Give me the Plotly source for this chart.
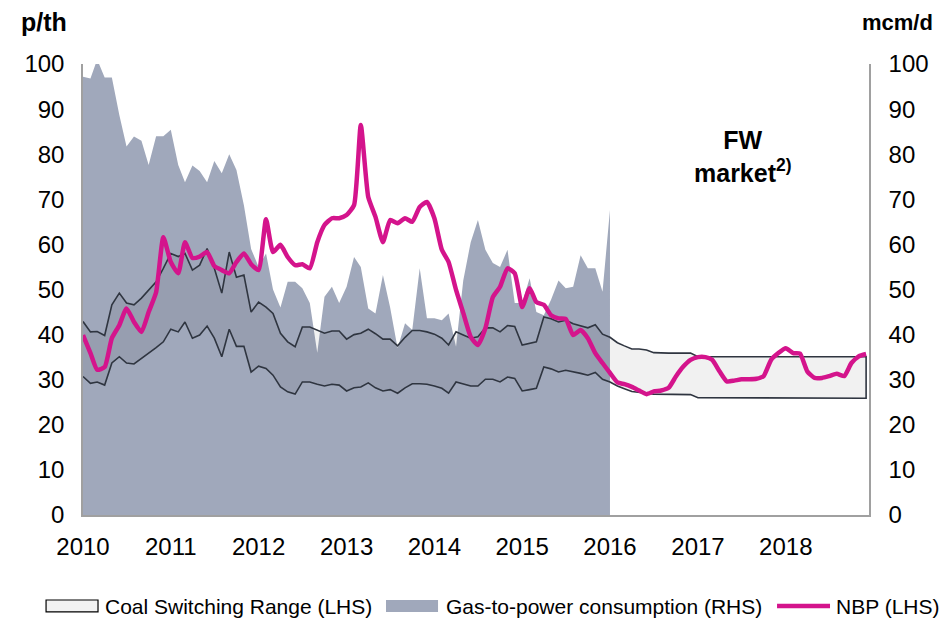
import pandas as pd
import plotly.graph_objects as go

months = pd.date_range("2010-01-01", periods=108, freq="MS")
year_ticks = pd.date_range("2010-01-01", periods=9, freq="YS")
year_labels = ["2010", "2011", "2012", "2013", "2014", "2015", "2016", "2017", "2018"]

gas_to_power = [97.2, 96.8, 101, 97, 97, 88.7, 81.7, 83.9, 83, 77.6, 84, 84,
                85.4, 77.6, 73.8, 77.5, 76.3, 73.8, 78.5, 75.8, 80, 76.5, 68.7, 59,
                55, 58, 50, 46, 51.7, 51.7, 50.3, 47, 36, 48.4, 50.6, 47,
                50.6, 57.2, 55, 45.8, 44.7, 53.2, 46, 37, 42.5, 41, 54.7, 43.6,
                43.6, 43.2, 44.7, 37.3, 52, 60.5, 65.4, 58.8, 55.9, 55, 58.8, 47,
                47, 52.5, 45, 44.3, 47.7, 52, 50.3, 50.6, 57.6, 54.7, 54.7, 49.5,
                67.6]

coal_upper = [42.9, 40.6, 40.7, 39.8, 46.6, 49.2, 47, 46.6, 48.1, 49.9, 51.7, 54.7,
              58, 57.3, 58, 54.3, 55.4, 59.1, 54.7, 49.2, 58.3, 52.7, 53.2, 45,
              47.2, 46.1, 44.7, 40.3, 38.4, 37.3, 41.7, 41.7, 41, 40.3, 40.8, 40.8,
              39, 40, 40.3, 41.2, 40.2, 39, 39, 37.5, 39.4, 40.9, 40.9, 40.6,
              40.1, 39.2, 37.7, 40.6, 39.9, 39.2, 39.5, 41.5, 41.5, 40.6, 42, 41.8,
              37.7, 38, 38.4, 43.9, 43.5, 42.8, 43.2, 42.4, 42, 41.5, 42.2, 40.1,
              39.4, 38.2, 37.5, 36.8, 36.8, 36.6, 36.0, 35.9, 35.9, 35.9, 35.9, 35.9,
              35.1, 35.1, 35.1, 35.1, 35.1, 35.1, 35.1, 35.1, 35.1, 35.1, 35.1, 35.1,
              35.1, 35.1, 35.1, 35.1, 35.1, 35.1, 35.1, 35.1, 35.1, 35.1, 35.1, 35.1]

coal_lower = [30.7, 29.2, 29.5, 28.8, 33.7, 35.1, 33.7, 33.5, 34.6, 35.9, 37.1, 38.4,
              41.2, 40.6, 42.8, 39.2, 39.9, 41.9, 39.2, 35.1, 41.2, 37.4, 37.4, 31.7,
              33, 32.5, 31, 28.4, 27.3, 26.8, 29.5, 29.5, 29, 28.6, 29, 28.8,
              27.5, 28.2, 28.4, 29.3, 28.2, 27.5, 27.8, 27, 28.2, 29.1, 29.1, 29,
              28.6, 28.1, 27, 29.5, 29, 28.6, 28.6, 30.1, 30.1, 29.5, 30.6, 30.3,
              27.5, 27.8, 28.1, 32.8, 32.4, 31.7, 32.1, 31.7, 31.4, 31, 31.6, 30.1,
              29.5, 28.6, 28.0, 27.4, 27.2, 27.0, 26.8, 26.7, 26.7, 26.7, 26.7, 26.7,
              26.0, 26.0, 26.0, 26.0, 26.0, 26.0, 26.0, 26.0, 26.0, 26.0, 26.0, 26.0,
              25.9, 25.9, 25.9, 25.9, 25.9, 25.9, 25.9, 25.9, 25.9, 25.9, 25.9, 25.9]

nbp = [39.9, 35.9, 32.2, 32.8, 39.2, 42.1, 45.8, 42.8, 40.6, 45, 49.4, 61.6,
       56.1, 53.6, 60.5, 57, 57.3, 58.3, 55.2, 54.3, 53.6, 56.1, 58, 55.6,
       54.3, 65.6, 58.3, 59.9, 57.2, 55.4, 55.6, 54.7, 60.5, 64.3, 65.8, 65.8,
       66.5, 68.7, 86.5, 70.5, 66.1, 60.5, 65.4, 64.7, 65.8, 65, 68.3, 69.4,
       65.8, 58.8, 56.1, 49.9, 44.8, 39.5, 37.7, 41.4, 48.3, 50.6, 54.7, 53.6,
       46.1, 50.3, 47.2, 46.6, 44.3, 43.6, 43.5, 39.9, 41, 39.2, 35.9, 33.7,
       31.5, 29.4, 29, 28.4, 27.6, 26.8, 27.4, 27.6, 28.2, 30.7, 32.9, 34.4,
       35, 35, 34.4, 31.8, 29.6, 29.8, 30.1, 30.1, 30.2, 30.8, 34.4, 35.9,
       37, 35.9, 35.8, 31.8, 30.4, 30.4, 30.8, 31.3, 30.8, 33.7, 35.2, 35.7]

legend_labels = ["Coal Switching Range (LHS)", "Gas-to-power consumption (RHS)", "NBP (LHS)"]

FONT = "Liberation Sans, Arial, sans-serif"
GAS_COLOR = "#a0a8bb"
NBP_COLOR = "#d4148c"
LINE_COLOR = "#2f3540"
BAND_FILL = "#f2f2f2"

fig = go.Figure()

# Gas-to-power consumption (RHS) area
fig.add_trace(go.Scatter(
    x=months[:len(gas_to_power)], y=gas_to_power, mode="lines",
    fill="tozeroy", fillcolor=GAS_COLOR, line=dict(width=0, color=GAS_COLOR),
    name=legend_labels[1], showlegend=False, hoverinfo="skip"))

# Coal switching range band (closed polygon upper -> reversed lower)
band_x = list(months) + list(months[::-1])
band_y = coal_upper + coal_lower[::-1]
fig.add_trace(go.Scatter(
    x=band_x, y=band_y, mode="lines", fill="toself",
    fillcolor="rgba(0,0,0,0.055)", line=dict(color=LINE_COLOR, width=1.6),
    name=legend_labels[0], showlegend=False, hoverinfo="skip"))

# NBP line
fig.add_trace(go.Scatter(
    x=months, y=nbp, mode="lines",
    line=dict(color=NBP_COLOR, width=4.5, shape="spline", smoothing=0.5),
    name=legend_labels[2], showlegend=False, hoverinfo="skip"))

# invisible copy on right axis so that it is drawn
fig.add_trace(go.Scatter(
    x=months[:len(gas_to_power)], y=gas_to_power, yaxis="y2", mode="lines",
    line=dict(width=0), opacity=0, showlegend=False, hoverinfo="skip"))

axis_col = "#a0a0a0"
# the html page adds an 8px body margin, so the figure is made 8px smaller
fig.update_layout(
    width=940, height=612,
    margin=dict(l=75, r=79, t=56, b=105, autoexpand=False),
    paper_bgcolor="white", plot_bgcolor="white",
    font=dict(family=FONT, color="black", size=24),
    showlegend=False,
    xaxis=dict(type="date", range=[months[0], pd.Timestamp("2018-12-13")],
               tickvals=year_ticks, ticktext=year_labels,
               showgrid=False, zeroline=False, showline=True, linecolor=axis_col,
               linewidth=1.5, ticks="", ticklabelstandoff=9,
               tickfont=dict(size=24)),
    yaxis=dict(range=[0, 100], tickvals=list(range(0, 101, 10)),
               showgrid=False, zeroline=False, showline=True, linecolor=axis_col,
               linewidth=1.5, ticks="", ticklabelstandoff=12,
               tickfont=dict(size=24)),
    yaxis2=dict(range=[0, 100], tickvals=list(range(0, 101, 10)), overlaying="y",
                side="right", showgrid=False, zeroline=False, showline=True,
                linecolor=axis_col, linewidth=1.5, ticks="", ticklabelstandoff=13,
                tickfont=dict(size=24)),
)

fig.add_annotation(text="<b>p/th</b>", xref="paper", yref="paper",
                   x=-0.05, y=1.093, showarrow=False, font=dict(size=25),
                   xanchor="center", yanchor="middle")
fig.add_annotation(text="<b>mcm/d</b>", xref="paper", yref="paper",
                   x=1.036, y=1.093, showarrow=False, font=dict(size=22),
                   xanchor="center", yanchor="middle")
fig.add_annotation(text="<b>FW<br>market<sup>2)</sup></b>", xref="paper", yref="paper",
                   x=0.84, y=0.795, showarrow=False, font=dict(size=25),
                   xanchor="center", yanchor="middle", align="center")

# ---- manual legend (paper coordinates below the plot area) ----
leg_y = -0.2018
fig.add_shape(type="rect", xref="paper", yref="paper",
              x0=-0.047, x1=0.0191, y0=-0.215, y1=-0.1885,
              fillcolor=BAND_FILL, line=dict(color="black", width=1.2))
fig.add_shape(type="rect", xref="paper", yref="paper",
              x0=0.3855, x1=0.4517, y0=-0.215, y1=-0.1885,
              fillcolor=GAS_COLOR, line=dict(width=0))
fig.add_shape(type="line", xref="paper", yref="paper",
              x0=0.883, x1=0.9504, y0=leg_y, y1=leg_y,
              line=dict(color=NBP_COLOR, width=4.5))
for lx, label in zip([0.0254, 0.4593, 0.9555], legend_labels):
    fig.add_annotation(text=label, xref="paper", yref="paper", x=lx, y=leg_y,
                       showarrow=False, xanchor="left", yanchor="middle",
                       font=dict(size=21))

fig.write_html("out.html")
